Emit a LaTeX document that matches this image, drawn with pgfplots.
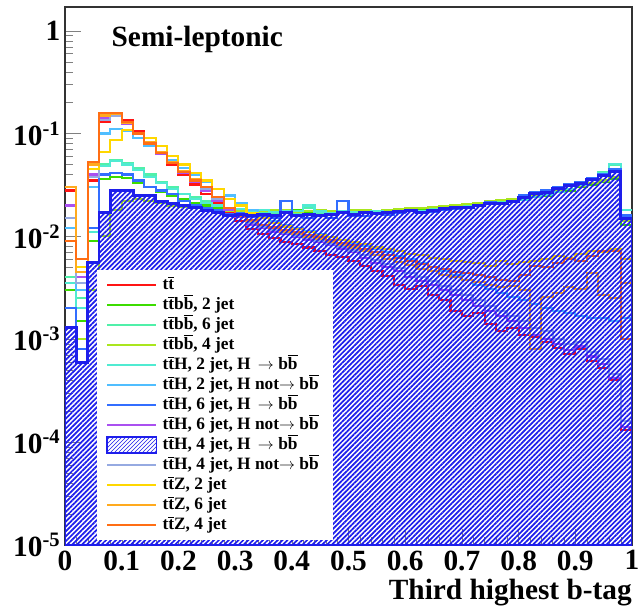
\documentclass[border=0pt]{standalone}
\usepackage{fontspec}
\setmainfont{Liberation Serif}
\usepackage{pgfplots}
\pgfplotsset{compat=1.18}
\usepackage{pgfplotstable}
\usetikzlibrary{patterns,patterns.meta}

\definecolor{cRed}{RGB}{255,20,20}
\definecolor{cGreen}{RGB}{60,220,0}
\definecolor{cAqua}{RGB}{80,240,170}
\definecolor{cYGreen}{RGB}{170,230,30}
\definecolor{cTurq}{RGB}{80,235,210}
\definecolor{cSky}{RGB}{80,190,255}
\definecolor{cBlue}{RGB}{50,110,255}
\definecolor{cPurple}{RGB}{170,80,240}
\definecolor{cHatch}{RGB}{30,30,235}
\definecolor{cSteel}{RGB}{150,170,225}
\definecolor{cGold}{RGB}{255,215,0}
\definecolor{cOrange}{RGB}{255,170,30}
\definecolor{cDOrange}{RGB}{255,110,20}

\newcommand{\tb}{\ensuremath{\overline{\mbox{t}}}}
\newcommand{\bbr}{\ensuremath{\overline{\mbox{b}}}}

\pgfplotsset{
  line legend img/.style={legend image code/.code={\draw[##1, line width=1.2pt] (0pt,0pt) -- (37pt,0pt);}},
  hatch legend img/.style={legend image code/.code={\draw[##1] (0pt,-6pt) rectangle (37pt,6pt);}},
}

\pgfplotstableread{
x tt bbA bbB bbC hA hAn hB hBn hC hCn zA zB zC
0.00 0.028 0.003 0.004 0.002 0.0035 0.012 0.002 0.02 0.0013 0.015 0.03 0.03 0.009
0.02 0.006 0.0015 0.0025 0.001 0.002 0.003 0.0008 0.004 0.0006 0.0035 0.005 0.0045 0.006
0.04 0.035 0.009 0.012 0.003 0.011 0.03 0.012 0.04 0.0056 0.038 0.045 0.05 0.053
0.06 0.13 0.036 0.05 0.01 0.048 0.1 0.04 0.14 0.017 0.135 0.066 0.15 0.158
0.08 0.15 0.038 0.055 0.018 0.054 0.11 0.041 0.155 0.028 0.15 0.086 0.155 0.16
0.10 0.135 0.037 0.052 0.022 0.05 0.105 0.04 0.125 0.028 0.128 0.108 0.128 0.13
0.12 0.105 0.033 0.046 0.023 0.044 0.09 0.035 0.1 0.025 0.102 0.1 0.1 0.1
0.14 0.082 0.03 0.04 0.022 0.038 0.075 0.03 0.08 0.025 0.081 0.09 0.082 0.08
0.16 0.064 0.027 0.034 0.021 0.033 0.064 0.028 0.064 0.022 0.065 0.075 0.066 0.065
0.18 0.05 0.025 0.03 0.02 0.029 0.055 0.026 0.052 0.021 0.052 0.061 0.053 0.052
0.20 0.04 0.023 0.026 0.0195 0.026 0.046 0.022 0.041 0.02 0.042 0.05 0.043 0.042
0.22 0.032 0.021 0.024 0.019 0.023 0.04 0.02 0.034 0.019 0.035 0.041 0.036 0.035
0.24 0.026 0.02 0.022 0.0185 0.021 0.034 0.019 0.028 0.018 0.029 0.035 0.03 0.03
0.26 0.021 0.019 0.02 0.018 0.02 0.029 0.018 0.022 0.017 0.023 0.029 0.024 0.024
0.28 0.017 0.018 0.019 0.0178 0.019 0.025 0.0165 0.018 0.016 0.019 0.023 0.019 0.019
0.30 0.014 0.018 0.018 0.0175 0.0185 0.021 0.017 0.0155 0.0165 0.016 0.02 0.016 0.016
0.32 0.0118 0.0175 0.017 0.018 0.0175 0.018 0.0155 0.013 0.016 0.0135 0.017 0.014 0.0145
0.34 0.0105 0.018 0.0175 0.0178 0.018 0.016 0.016 0.012 0.0165 0.0125 0.015 0.013 0.013
0.36 0.0097 0.0178 0.017 0.0182 0.0172 0.014 0.0152 0.011 0.016 0.0115 0.0135 0.012 0.0122
0.38 0.0088 0.0175 0.018 0.018 0.0175 0.0128 0.022 0.0105 0.017 0.0108 0.0125 0.011 0.0115
0.40 0.0085 0.018 0.017 0.0175 0.0178 0.012 0.0158 0.0098 0.016 0.0102 0.0118 0.0105 0.011
0.42 0.0078 0.0172 0.019 0.0178 0.02 0.0112 0.015 0.0092 0.0165 0.0096 0.011 0.0098 0.0104
0.44 0.0072 0.0178 0.017 0.018 0.0175 0.0105 0.016 0.0088 0.016 0.009 0.0102 0.0095 0.0098
0.46 0.0066 0.0175 0.0168 0.0175 0.017 0.0098 0.0152 0.0082 0.0165 0.0085 0.0098 0.0088 0.0092
0.48 0.0063 0.017 0.017 0.0178 0.0175 0.0092 0.022 0.0075 0.017 0.0079 0.0092 0.0082 0.0086
0.50 0.0058 0.0175 0.0165 0.018 0.0172 0.0087 0.016 0.007 0.0165 0.0073 0.0088 0.0078 0.0082
0.52 0.0052 0.0172 0.017 0.0182 0.0168 0.008 0.0158 0.0062 0.017 0.0066 0.0085 0.0072 0.0076
0.54 0.0046 0.0175 0.017 0.0178 0.0175 0.0075 0.0165 0.0055 0.0168 0.0059 0.0078 0.0066 0.007
0.56 0.0041 0.0178 0.0172 0.018 0.0172 0.007 0.0162 0.005 0.017 0.0054 0.0075 0.006 0.0066
0.58 0.0034 0.018 0.0178 0.0185 0.0178 0.0064 0.0168 0.0046 0.0175 0.0049 0.0072 0.0056 0.0062
0.60 0.0031 0.0182 0.018 0.019 0.0182 0.006 0.018 0.004 0.0178 0.0044 0.0068 0.0053 0.0058
0.62 0.0033 0.018 0.0178 0.0188 0.0175 0.0055 0.017 0.0037 0.0172 0.004 0.0066 0.0048 0.0054
0.64 0.0027 0.0185 0.0185 0.0192 0.018 0.005 0.0175 0.0034 0.018 0.0037 0.0062 0.0046 0.005
0.66 0.0024 0.019 0.019 0.0196 0.0185 0.0046 0.018 0.003 0.0185 0.0033 0.006 0.0042 0.0048
0.68 0.0019 0.019 0.0195 0.02 0.019 0.0042 0.0185 0.0027 0.019 0.003 0.0058 0.004 0.0045
0.70 0.0017 0.0195 0.02 0.0205 0.0192 0.0038 0.019 0.0024 0.019 0.0027 0.0056 0.0038 0.0044
0.72 0.0018 0.02 0.0205 0.021 0.0198 0.0034 0.02 0.0021 0.02 0.0024 0.0055 0.0036 0.0042
0.74 0.0014 0.021 0.021 0.022 0.0205 0.0031 0.0215 0.0019 0.021 0.0021 0.0052 0.0034 0.004
0.76 0.0012 0.0215 0.022 0.0225 0.021 0.0028 0.021 0.0017 0.021 0.0019 0.0058 0.0032 0.0038
0.78 0.0013 0.022 0.023 0.023 0.022 0.0026 0.022 0.0015 0.022 0.0017 0.0054 0.0033 0.0037
0.80 0.0011 0.023 0.024 0.0235 0.0225 0.0024 0.025 0.0013 0.024 0.0015 0.0056 0.003 0.0042
0.82 0.00105 0.024 0.025 0.025 0.024 0.0022 0.027 0.0011 0.026 0.0013 0.0058 0.0008 0.0052
0.84 0.00095 0.025 0.027 0.026 0.0255 0.002 0.028 0.001 0.027 0.0012 0.006 0.0026 0.005
0.86 0.00082 0.027 0.029 0.0275 0.027 0.0019 0.03 0.0009 0.029 0.001 0.0064 0.0028 0.0055
0.88 0.00072 0.028 0.031 0.029 0.029 0.0018 0.032 0.00078 0.031 0.0009 0.0062 0.0032 0.006
0.90 0.0008 0.03 0.034 0.031 0.032 0.0017 0.034 0.00085 0.033 0.00095 0.0068 0.0031 0.0058
0.92 0.00062 0.032 0.037 0.033 0.036 0.0016 0.037 0.00068 0.036 0.00075 0.0072 0.0044 0.0065
0.94 0.00053 0.034 0.042 0.035 0.041 0.0016 0.04 0.00058 0.039 0.00064 0.007 0.0027 0.0072
0.96 0.0004 0.036 0.05 0.038 0.051 0.0015 0.045 0.00042 0.043 0.00046 0.0075 0.0025 0.0072
0.98 0.00013 0.013 0.018 0.014 0.018 0.0016 0.016 0.00014 0.015 0.00016 0.006 0.0035 0.001
1.00 0.00013 0.013 0.018 0.014 0.018 0.0016 0.016 0.00014 0.015 0.00016 0.006 0.0035 0.001
}\hdata

\begin{document}
\begin{tikzpicture}
\begin{axis}[
  at={(0,0)}, anchor=south west,
  scale only axis, width=425.25pt, height=403.5pt,
  xmin=0, xmax=1, ymode=log, ymin=1e-5, ymax=1.7,
  log origin y=infty,
  axis line style={line width=1pt, black!80},
  tick align=inside, xtick pos=lower, ytick pos=left,
  major tick length=12pt, minor tick length=6pt,
  xtick={0,0.1,0.2,0.3,0.4,0.5,0.6,0.7,0.8,0.9,1},
  xticklabels={0,0.1,0.2,0.3,0.4,0.5,0.6,0.7,0.8,0.9,1},
  minor x tick num=4,
  ytick={1e-5,1e-4,1e-3,1e-2,1e-1,1},
  yticklabels={10\textsuperscript{-5},10\textsuperscript{-4},10\textsuperscript{-3},10\textsuperscript{-2},10\textsuperscript{-1},1},
  ticklabel style={font=\bfseries\fontsize{22}{22}\selectfont},
  xticklabel style={inner sep=1pt, text depth=0pt, yshift=-3pt},
  xlabel={Third highest b-tag},
  x label style={at={(axis description cs:1,0)}, anchor=base east, yshift=-41pt, inner sep=0pt, font=\bfseries\fontsize{22}{22}\selectfont},
  line legend img,
  legend cell align=left,
  legend style={at={(rel axis cs:0.056,0.008)}, anchor=south west, draw=none, fill=white,
    inner xsep=7pt, inner ysep=4pt, row sep=0pt,
    nodes={text height=10.5pt, text depth=4.5pt, inner ysep=0pt, inner xsep=4pt},
    font=\bfseries\fontsize{13}{15}\selectfont},
  every axis plot/.append style={const plot, line width=1.6pt},
]
\addlegendimage{cRed}\addlegendentry{t\tb}
\addlegendimage{cGreen}\addlegendentry{t\tb b\bbr, 2 jet}
\addlegendimage{cAqua}\addlegendentry{t\tb b\bbr, 6 jet}
\addlegendimage{cYGreen}\addlegendentry{t\tb b\bbr, 4 jet}
\addlegendimage{cTurq}\addlegendentry{t\tb H, 2 jet, H \,$\rightarrow$ b\bbr}
\addlegendimage{cSky}\addlegendentry{t\tb H, 2 jet, H not$\rightarrow$ b\bbr}
\addlegendimage{cBlue}\addlegendentry{t\tb H, 6 jet, H \,$\rightarrow$ b\bbr}
\addlegendimage{cPurple}\addlegendentry{t\tb H, 6 jet, H not$\rightarrow$ b\bbr}
\addlegendimage{hatch legend img, draw=cHatch, line width=1pt, pattern=north east lines, pattern color=cHatch}\addlegendentry{t\tb H, 4 jet, H \,$\rightarrow$ b\bbr}
\addlegendimage{cSteel}\addlegendentry{t\tb H, 4 jet, H not$\rightarrow$ b\bbr}
\addlegendimage{cGold}\addlegendentry{t\tb Z, 2 jet}
\addlegendimage{cOrange}\addlegendentry{t\tb Z, 6 jet}
\addlegendimage{cDOrange}\addlegendentry{t\tb Z, 4 jet}

\addplot[cRed, forget plot] table[x=x, y=tt] {\hdata};
\addplot[cGreen, forget plot] table[x=x, y=bbA] {\hdata};
\addplot[cAqua, forget plot] table[x=x, y=bbB] {\hdata};
\addplot[cYGreen, forget plot] table[x=x, y=bbC] {\hdata};
\addplot[cTurq, forget plot] table[x=x, y=hA] {\hdata};
\addplot[cSky, forget plot] table[x=x, y=hAn] {\hdata};
\addplot[cBlue, forget plot] table[x=x, y=hB] {\hdata};
\addplot[cPurple, forget plot] table[x=x, y=hBn] {\hdata};
\addplot[cSteel, forget plot] table[x=x, y=hCn] {\hdata};
\addplot[cGold, forget plot] table[x=x, y=zA] {\hdata};
\addplot[cOrange, forget plot] table[x=x, y=zB] {\hdata};
\addplot[cDOrange, forget plot] table[x=x, y=zC] {\hdata};
\addplot[draw=cHatch, line width=2.2pt, pattern={Lines[angle=45,distance=2.6pt,line width=1.3pt]}, pattern color=cHatch, forget plot] table[x=x, y=hC] {\hdata} \closedcycle;

\node[anchor=base west, font=\bfseries\fontsize{22}{22}\selectfont] at (rel axis cs:0.074,0.926) {Semi-leptonic};
\end{axis}
\pgfresetboundingbox
\path (-48.75pt,-46.5pt) rectangle (432pt,408.75pt);
\end{tikzpicture}
\end{document}
